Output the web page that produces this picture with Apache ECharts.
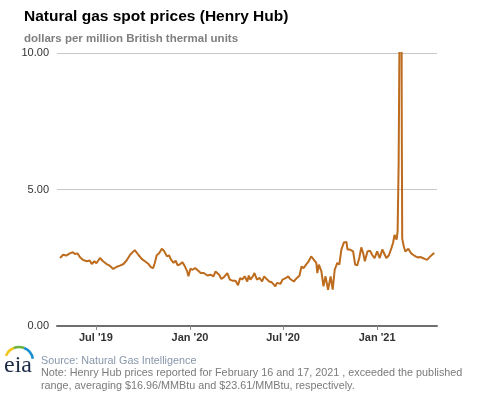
<!DOCTYPE html>
<html>
<head>
<meta charset="utf-8">
<script src="https://cdn.jsdelivr.net/npm/echarts@6/dist/echarts.min.js"></script>
<style>
html,body{margin:0;padding:0;background:#fff;}
#chart{width:477px;height:393px;}
</style>
</head>
<body>
<div id="chart"></div>
<script>
// Henry Hub spot price, dollars per MMBtu
const dates = [
'2019-04-22','2019-04-28','2019-05-04','2019-05-11','2019-05-17','2019-05-21','2019-05-26','2019-05-31',
'2019-06-06','2019-06-13','2019-06-19','2019-06-23','2019-06-28','2019-07-02','2019-07-09','2019-07-15',
'2019-07-22','2019-07-28','2019-08-04','2019-08-11','2019-08-17','2019-08-24','2019-08-30','2019-09-06',
'2019-09-15','2019-09-22','2019-09-29','2019-10-05','2019-10-12','2019-10-15','2019-10-17','2019-10-21',
'2019-10-24','2019-10-28','2019-11-02','2019-11-07','2019-11-11','2019-11-17','2019-11-21','2019-11-25',
'2019-11-30','2019-12-04','2019-12-08','2019-12-13','2019-12-17','2019-12-21','2019-12-26','2019-12-29',
'2020-01-02','2020-01-06','2020-01-11','2020-01-15','2020-01-22','2020-01-28','2020-02-04','2020-02-10',
'2020-02-16','2020-02-20','2020-02-27','2020-03-02','2020-03-07','2020-03-14','2020-03-19','2020-03-24',
'2020-03-30','2020-04-04','2020-04-08','2020-04-12','2020-04-17','2020-04-22','2020-04-25','2020-04-28',
'2020-05-03','2020-05-06','2020-05-11','2020-05-16','2020-05-21','2020-05-25','2020-05-31','2020-06-04',
'2020-06-09','2020-06-16','2020-06-19','2020-06-26','2020-06-30','2020-07-07','2020-07-11','2020-07-15',
'2020-07-22','2020-07-28','2020-08-02','2020-08-06','2020-08-10','2020-08-15','2020-08-20','2020-08-25',
'2020-08-30','2020-09-04','2020-09-06','2020-09-09','2020-09-14','2020-09-18','2020-09-22','2020-09-27',
'2020-10-02','2020-10-06','2020-10-10','2020-10-15','2020-10-19','2020-10-23','2020-10-28','2020-11-02',
'2020-11-04','2020-11-09','2020-11-12','2020-11-15','2020-11-19','2020-11-23','2020-11-27','2020-12-01',
'2020-12-05','2020-12-08','2020-12-13','2020-12-18','2020-12-22','2020-12-27','2021-01-01','2021-01-06',
'2021-01-11','2021-01-14','2021-01-19','2021-01-24','2021-01-29','2021-02-01','2021-02-04','2021-02-08',
'2021-02-10','2021-02-12','2021-02-16','2021-02-17','2021-02-18','2021-02-19','2021-02-22','2021-02-25',
'2021-03-03','2021-03-08','2021-03-12','2021-03-17','2021-03-22','2021-03-26','2021-03-31','2021-04-05',
'2021-04-09','2021-04-15','2021-04-20','2021-04-23'
];
const prices = [
2.49,2.61,2.58,2.66,2.70,2.64,2.66,2.52,
2.42,2.37,2.40,2.27,2.37,2.30,2.49,2.37,
2.27,2.21,2.09,2.17,2.21,2.27,2.40,2.61,
2.78,2.61,2.45,2.37,2.27,2.22,2.15,2.12,
2.30,2.59,2.67,2.83,2.76,2.55,2.59,2.43,
2.31,2.39,2.22,2.27,2.34,2.22,2.03,1.82,
2.10,2.06,2.12,2.06,1.94,1.94,1.85,1.88,
1.82,2.00,1.88,1.73,1.78,1.94,1.70,1.66,
1.66,1.49,1.76,1.70,1.82,1.63,1.85,1.70,
1.82,1.94,1.70,1.76,1.63,1.82,1.70,1.63,
1.60,1.45,1.58,1.55,1.70,1.76,1.82,1.72,
1.63,1.76,1.84,2.18,2.12,2.25,2.37,2.55,
2.43,2.31,1.94,2.25,2.00,1.45,1.82,1.33,
1.82,1.33,2.06,2.31,2.25,2.80,3.06,3.08,
2.80,2.80,2.86,2.73,2.25,2.22,2.49,2.88,
2.64,2.37,2.73,2.76,2.61,2.49,2.73,2.49,
2.80,2.73,2.49,2.59,2.86,3.04,3.34,3.16,
3.47,5.95,16.96,23.61,8.00,3.20,2.92,2.73,
2.83,2.67,2.61,2.55,2.51,2.53,2.49,2.45,
2.43,2.55,2.64,2.67
];
const tickDates = ['2019-07-01','2020-01-01','2020-07-01','2021-01-01'];
const axisStart = '2019-04-16';
const axisEnd = '2021-04-28';
const monthNames = ['Jan','Feb','Mar','Apr','May','Jun','Jul','Aug','Sep','Oct','Nov','Dec'];
const yTicks = [0,5,10];

function toTime(s) { const p = s.split('-').map(Number); return new Date(p[0], p[1] - 1, p[2]).getTime(); }
const tickValues = tickDates.map(toTime);
const seriesData = dates.map((d, i) => [toTime(d), prices[i]]);

const chart = echarts.init(document.getElementById('chart'), null, {renderer: 'canvas'});
const font = '"Liberation Sans", Arial, sans-serif';

chart.setOption({
  animation: false,
  textStyle: {fontFamily: font},
  title: [
    {text: 'Natural gas spot prices (Henry Hub)', left: 19, top: 4,
     textStyle: {fontSize: 15.5, fontWeight: 'bold', color: '#000', fontFamily: font}},
    {text: 'dollars per million British thermal units', left: 19, top: 28,
     textStyle: {fontSize: 11.5, fontWeight: 'bold', color: '#7f7f7f', fontFamily: font}}
  ],
  grid: {left: 57, right: 40, top: 53, bottom: 67, containLabel: false},
  xAxis: {
    type: 'value',
    min: toTime(axisStart),
    max: toTime(axisEnd),
    axisLine: {show: true, onZero: false, lineStyle: {color: '#6f6f6f', width: 2}},
    axisTick: {show: true, customValues: tickValues, length: 4, lineStyle: {color: '#8c8c8c', width: 1}},
    axisLabel: {
      customValues: tickValues,
      color: '#333', fontSize: 11, fontWeight: 'bold', fontFamily: font, margin: 6,
      formatter: function (v) {
        const d = new Date(v);
        return monthNames[d.getMonth()] + " '" + String(d.getFullYear()).slice(2);
      }
    },
    splitLine: {show: false}
  },
  yAxis: {
    type: 'value', min: 0, max: 10, interval: 5,
    axisLine: {show: false},
    axisTick: {show: false},
    axisLabel: {color: '#333', fontSize: 11, fontFamily: font, margin: 8,
      formatter: v => yTicks.includes(v) ? v.toFixed(2) : ''},
    splitLine: {show: true, lineStyle: {color: '#c8c8c8', width: 1}}
  },
  series: [{
    type: 'line',
    data: seriesData,
    showSymbol: false,
    clip: true,
    lineStyle: {color: '#bd6b1c', width: 2},
    itemStyle: {color: '#bd6b1c'},
    z: 3
  }],
  graphic: [
    {type: 'arc', shape: {cx: 19, cy: 361, r: 14, startAngle: Math.PI * 1.12, endAngle: Math.PI * 1.38},
     style: {stroke: '#f2c418', lineWidth: 2.5, fill: null}},
    {type: 'arc', shape: {cx: 19, cy: 361, r: 14, startAngle: Math.PI * 1.38, endAngle: Math.PI * 1.62},
     style: {stroke: '#6cb33f', lineWidth: 2.5, fill: null}},
    {type: 'arc', shape: {cx: 19, cy: 361, r: 14, startAngle: Math.PI * 1.62, endAngle: Math.PI * 1.95},
     style: {stroke: '#1a8fd0', lineWidth: 2.5, fill: null}},
    {type: 'text', left: 4, top: 354,
     style: {text: 'eia', font: '24px "Liberation Serif", "DejaVu Serif", serif', fill: '#1b2a45'}},
    {type: 'text', left: 41, top: 355.5,
     style: {text: 'Source: Natural Gas Intelligence', font: '10.8px ' + font, fill: '#8796ab'}},
    {type: 'text', left: 41, top: 368,
     style: {text: 'Note: Henry Hub prices reported for February 16 and 17, 2021 , exceeded the published', font: '10.8px ' + font, fill: '#7a7a7a'}},
    {type: 'text', left: 41, top: 380.5,
     style: {text: 'range, averaging $16.96/MMBtu and $23.61/MMBtu, respectively.', font: '10.8px ' + font, fill: '#7a7a7a'}}
  ]
});
</script>
</body>
</html>
